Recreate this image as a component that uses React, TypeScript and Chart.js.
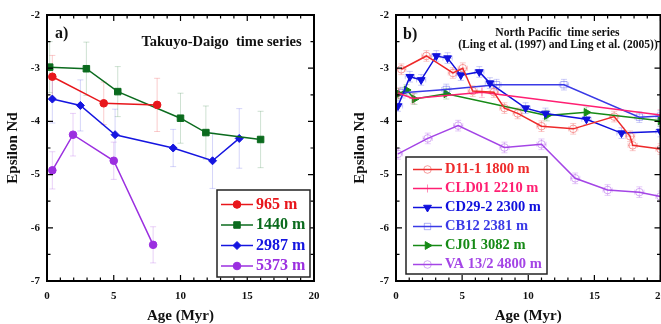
import React, { useEffect, useRef } from 'react';
import { Chart, registerables } from 'chart.js';
import { drawPoint } from 'chart.js/helpers';

Chart.register(...registerables);

const FONT = '"Liberation Serif", "Times New Roman", serif';

// ---------- Panel a: Takuyo-Daigo ----------
const age965 = [0.4, 4.25, 8.25];
const eps965 = [-3.16, -3.66, -3.69];
const err965 = [0.4, 0.4, 0.5];

const age1440 = [0.2, 2.95, 5.3, 10.0, 11.9, 16.0];
const eps1440 = [-2.98, -3.01, -3.44, -3.94, -4.21, -4.34];
const err1440 = [0.48, 0.5, 0.47, 0.47, 0.5, 0.53];

const age2987 = [0.4, 2.5, 5.1, 9.45, 12.4, 14.4];
const eps2987 = [-3.58, -3.7, -4.25, -4.5, -4.74, -4.32];
const err2987 = [0.45, 0.48, 0.48, 0.35, 0.52, 0.56];

const age5373 = [0.4, 1.95, 5.0, 7.95];
const eps5373 = [-4.92, -4.25, -4.74, -6.32];
const err5373 = [0.35, 0.4, 0.35, 0.34];

// ---------- Panel b: North Pacific ----------
const ageD11 = [0.4, 2.3, 4.3, 5.05, 5.8, 7.4, 8.2, 9.2, 11.0, 13.4, 16.5, 17.7, 17.9, 20.0];
const epsD11 = [-3.02, -2.77, -3.09, -3.0, -3.43, -3.45, -3.75, -3.85, -4.09, -4.14, -3.91, -4.28, -4.45, -4.52];

const ageCLD = [0.2, 1.3, 6.5, 20.0];
const epsCLD = [-3.47, -3.57, -3.45, -3.88];

const ageCD29 = [0.15, 1.05, 1.9, 3.05, 3.9, 4.9, 6.3, 7.1, 9.8, 11.3, 14.4, 17.05, 20.0];
const epsCD29 = [-3.71, -3.16, -3.22, -2.77, -2.81, -3.13, -3.07, -3.28, -3.75, -3.85, -3.96, -4.22, -4.19];

const ageCB12 = [0.5, 3.8, 7.6, 12.7, 18.4, 20.0];
const epsCB12 = [-3.46, -3.4, -3.31, -3.31, -3.92, -3.9];

const ageCJ01 = [0.2, 0.8, 1.4, 3.8, 11.4, 14.4, 20.0];
const epsCJ01 = [-3.48, -3.41, -3.58, -3.48, -3.89, -3.83, -3.99];

const ageVA = [0.15, 2.4, 4.7, 8.2, 11.0, 13.55, 16.0, 18.4, 20.0];
const epsVA = [-4.61, -4.32, -4.08, -4.49, -4.43, -5.07, -5.29, -5.33, -5.41];

const errB_y = 0.1; // typical epsilon Nd uncertainty in panel b
const errB_x = 0.35; // typical age uncertainty in panel b (Myr)

const xTickValues = [0, 5, 10, 15, 20];
const yTickValues = [-7, -6, -5, -4, -3, -2];

const pts = (xs: number[], ys: number[]) => xs.map((x, i) => ({ x, y: ys[i] }));
const fill = (n: number, v: number) => xs(n).map(() => v);
function xs(n: number) { return Array.from({ length: n }, (_, i) => i); }

// ---------- plugins ----------
const framePlugin = {
  id: 'frameTicks',
  afterDatasetsDraw(chart: any) {
    const { ctx, chartArea: a, scales } = chart;
    const x = scales.x, y = scales.y;
    ctx.save();
    ctx.strokeStyle = '#000';
    ctx.lineWidth = 1.2;
    ctx.beginPath();
    for (let v = x.min; v <= x.max + 1e-9; v += 1) {
      const px = x.getPixelForValue(v);
      const len = Math.abs(v % 5) < 1e-9 ? 6 : 3.5;
      ctx.moveTo(px, a.bottom); ctx.lineTo(px, a.bottom - len);
      ctx.moveTo(px, a.top); ctx.lineTo(px, a.top + len);
    }
    for (let v = y.min; v <= y.max + 1e-9; v += 0.5) {
      const py = y.getPixelForValue(v);
      const len = Math.abs(v % 1) < 1e-9 ? 6 : 3.5;
      ctx.moveTo(a.left, py); ctx.lineTo(a.left + len, py);
      ctx.moveTo(a.right, py); ctx.lineTo(a.right - len, py);
    }
    ctx.stroke();
    ctx.lineWidth = 2;
    ctx.strokeRect(a.left, a.top, a.right - a.left, a.bottom - a.top);
    ctx.restore();
  },
};

const errPlugin = {
  id: 'errBars',
  beforeDatasetsDraw(chart: any) {
    const { ctx, chartArea: a, scales } = chart;
    const x = scales.x, y = scales.y;
    ctx.save();
    ctx.beginPath();
    ctx.rect(a.left, a.top, a.right - a.left, a.bottom - a.top);
    ctx.clip();
    chart.data.datasets.forEach((ds: any) => {
      ctx.strokeStyle = ds.errColor;
      ctx.lineWidth = 1;
      ctx.beginPath();
      ds.data.forEach((p: any, i: number) => {
        const px = x.getPixelForValue(p.x);
        const py = y.getPixelForValue(p.y);
        if (ds.errY) {
          const e = Array.isArray(ds.errY) ? ds.errY[i] : ds.errY;
          const t = y.getPixelForValue(p.y + e);
          const b = y.getPixelForValue(p.y - e);
          ctx.moveTo(px, t); ctx.lineTo(px, b);
          ctx.moveTo(px - 3, t); ctx.lineTo(px + 3, t);
          ctx.moveTo(px - 3, b); ctx.lineTo(px + 3, b);
        }
        if (ds.errX) {
          const l = x.getPixelForValue(p.x - ds.errX);
          const r = x.getPixelForValue(p.x + ds.errX);
          ctx.moveTo(l, py); ctx.lineTo(r, py);
          ctx.moveTo(l, py - 2.5); ctx.lineTo(l, py + 2.5);
          ctx.moveTo(r, py - 2.5); ctx.lineTo(r, py + 2.5);
        }
      });
      ctx.stroke();
    });
    ctx.restore();
  },
};

const legendPlugin = {
  id: 'boxLegend',
  afterDraw(chart: any, _args: any, o: any) {
    if (!o || !o.show) return;
    const { ctx } = chart;
    ctx.save();
    ctx.fillStyle = '#fff';
    ctx.fillRect(o.left, o.top, o.width, o.height);
    ctx.strokeStyle = '#222';
    ctx.lineWidth = 1.5;
    ctx.strokeRect(o.left, o.top, o.width, o.height);
    chart.data.datasets.forEach((ds: any, i: number) => {
      const yy = o.rowY + i * o.rowH;
      ctx.strokeStyle = ds.borderColor;
      ctx.lineWidth = ds.borderWidth;
      ctx.beginPath();
      ctx.moveTo(o.lineX1, yy); ctx.lineTo(o.lineX2, yy);
      ctx.stroke();
      ctx.fillStyle = ds.pointBackgroundColor;
      ctx.strokeStyle = ds.pointBorderColor;
      ctx.lineWidth = ds.pointBorderWidth ?? 1;
      drawPoint(ctx, { pointStyle: ds.pointStyle, rotation: ds.pointRotation || 0, radius: ds.pointRadius, borderWidth: ds.pointBorderWidth ?? 1 } as any, (o.lineX1 + o.lineX2) / 2, yy);
      ctx.fillStyle = ds.textColor || ds.borderColor;
      ctx.font = `bold ${o.fontSize}px ${FONT}`;
      ctx.textBaseline = 'middle';
      ctx.textAlign = 'left';
      ctx.fillText(ds.label, o.textX, yy);
    });
    ctx.restore();
  },
};

const textPlugin = {
  id: 'texts',
  afterDraw(chart: any, _args: any, o: any) {
    if (!o || !o.items) return;
    const { ctx } = chart;
    ctx.save();
    o.items.forEach((t: any) => {
      ctx.fillStyle = '#111';
      ctx.font = `bold ${t.size}px ${FONT}`;
      ctx.textAlign = t.align || 'center';
      ctx.textBaseline = 'middle';
      ctx.fillText(t.text, t.x, t.y);
    });
    ctx.restore();
  },
};

function makeOptions(yWidth: number, padRight: number, yTitlePad: number, legend: any, texts: any[]) {
  return {
    animation: false,
    responsive: false,
    devicePixelRatio: 1,
    layout: { padding: { top: 15, right: padRight, left: 0, bottom: 0 } },
    plugins: {
      legend: { display: false },
      tooltip: { enabled: false },
      boxLegend: legend,
      texts: { items: texts },
    },
    scales: {
      x: {
        type: 'linear',
        min: 0,
        max: 20,
        afterFit: (s: any) => { s.height = 43; },
        afterBuildTicks: (s: any) => { s.ticks = xTickValues.map((v) => ({ value: v })); },
        grid: { display: false, drawTicks: false },
        border: { display: false },
        ticks: { color: '#111', padding: 9, font: { family: FONT, size: 11, weight: 'bold' } },
        title: { display: true, text: 'Age (Myr)', color: '#111', padding: { top: 0, bottom: 0.5 }, font: { family: FONT, size: 15, weight: 'bold', lineHeight: 1 } },
      },
      y: {
        type: 'linear',
        min: -7,
        max: -2,
        afterFit: (s: any) => { s.width = yWidth; },
        afterBuildTicks: (s: any) => { s.ticks = yTickValues.map((v) => ({ value: v })); },
        grid: { display: false, drawTicks: false },
        border: { display: false },
        ticks: { color: '#111', padding: 7, font: { family: FONT, size: 11, weight: 'bold' } },
        title: { display: true, text: 'Epsilon Nd', color: '#111', padding: { top: yTitlePad, bottom: 0 }, font: { family: FONT, size: 15, weight: 'bold', lineHeight: 1 } },
      },
    },
  };
}

function ds(label: string, x: number[], y: number[], color: string, errColor: string, extra: any) {
  return {
    label,
    data: pts(x, y),
    showLine: true,
    borderColor: color,
    backgroundColor: color,
    borderWidth: 1.5,
    pointBackgroundColor: color,
    pointBorderColor: color,
    pointBorderWidth: 1,
    errColor,
    textColor: color,
    ...extra,
  };
}

function PanelA() {
  const ref = useRef<HTMLCanvasElement>(null);
  useEffect(() => {
    const red = '#e8161b', green = '#0b6b1e', blue = '#1515e0', purple = '#9b2fe0';
    const chart = new Chart(ref.current as HTMLCanvasElement, {
      type: 'scatter',
      data: {
        datasets: [
          ds('965 m', age965, eps965, red, 'rgba(232,22,27,0.22)', { errY: err965, pointStyle: 'circle', pointRadius: 3.8 }),
          ds('1440 m', age1440, eps1440, green, 'rgba(11,107,30,0.2)', { errY: err1440, pointStyle: 'rect', pointRadius: 4.6 }),
          ds('2987 m', age2987, eps2987, blue, 'rgba(21,21,224,0.18)', { errY: err2987, pointStyle: 'rectRot', pointRadius: 4 }),
          ds('5373 m', age5373, eps5373, purple, 'rgba(155,47,224,0.22)', { errY: err5373, pointStyle: 'circle', pointRadius: 3.8 }),
        ],
      } as any,
      options: makeOptions(47, 16, 5.5,
        { show: true, left: 217, top: 190, width: 93, height: 87, rowY: 204.5, rowH: 20.5, lineX1: 221, lineX2: 253, textX: 256, fontSize: 16 },
        [
          { text: 'a)', x: 55, y: 34, size: 16, align: 'left' },
          { text: 'Takuyo-Daigo  time series', x: 221.5, y: 42.5, size: 14.5 },
        ]) as any,
      plugins: [errPlugin, framePlugin, legendPlugin, textPlugin],
    });
    return () => chart.destroy();
  }, []);
  return <canvas ref={ref} width={330} height={324} style={{ position: 'absolute', left: 0, top: 0, width: 330, height: 324 }} />;
}

function PanelB() {
  const ref = useRef<HTMLCanvasElement>(null);
  useEffect(() => {
    const red = '#ee2a2a', pink = '#ff1f72', blue = '#1010dd', blue2 = '#3a3ae6', green = '#168a16', purple = '#a445e6';
    const n = (a: number[]) => a.length;
    const chart = new Chart(ref.current as HTMLCanvasElement, {
      type: 'scatter',
      data: {
        datasets: [
          ds('D11-1 1800 m', ageD11, epsD11, red, 'rgba(238,42,42,0.25)', { errY: fill(n(ageD11), errB_y), errX: errB_x, pointStyle: 'circle', pointRadius: 3.8, pointBackgroundColor: 'rgba(0,0,0,0)', pointBorderColor: 'rgba(238,42,42,0.45)' }),
          ds('CLD01 2210 m', ageCLD, epsCLD, pink, 'rgba(255,31,114,0.25)', { errY: fill(n(ageCLD), errB_y), pointStyle: 'cross', pointRadius: 4, pointBorderColor: 'rgba(255,31,114,0.5)' }),
          ds('CD29-2 2300 m', ageCD29, epsCD29, blue, 'rgba(16,16,221,0.22)', { errY: fill(n(ageCD29), errB_y), errX: errB_x, pointStyle: 'triangle', pointRotation: 180, pointRadius: 4.5 }),
          ds('CB12 2381 m', ageCB12, epsCB12, blue2, 'rgba(58,58,230,0.25)', { errY: fill(n(ageCB12), errB_y), errX: errB_x, pointStyle: 'rect', pointRadius: 4.5, pointBackgroundColor: 'rgba(0,0,0,0)', pointBorderColor: 'rgba(58,58,230,0.4)' }),
          ds('CJ01 3082 m', ageCJ01, epsCJ01, green, 'rgba(22,138,22,0.25)', { errY: fill(n(ageCJ01), errB_y), pointStyle: 'triangle', pointRotation: 90, pointRadius: 4.5 }),
          ds('VA 13/2 4800 m', ageVA, epsVA, purple, 'rgba(164,69,230,0.28)', { errY: fill(n(ageVA), errB_y), errX: errB_x, pointStyle: 'circle', pointRadius: 3.8, pointBackgroundColor: 'rgba(0,0,0,0)', pointBorderColor: 'rgba(164,69,230,0.45)' }),
        ],
      } as any,
      options: makeOptions(66, 12, 22.5,
        { show: true, left: 76, top: 157, width: 141, height: 117, rowY: 169.5, rowH: 19, lineX1: 83, lineX2: 112, textX: 115, fontSize: 14.5 },
        [
          { text: 'b)', x: 73, y: 35, size: 16, align: 'left' },
          { text: 'North Pacific  time series', x: 227.5, y: 33, size: 11.6 },
          { text: '(Ling et al. (1997) and Ling et al. (2005))', x: 228, y: 45, size: 11.6 },
        ]) as any,
      plugins: [errPlugin, framePlugin, legendPlugin, textPlugin],
    });
    return () => chart.destroy();
  }, []);
  return <canvas ref={ref} width={345} height={324} style={{ position: 'absolute', left: 330, top: 0, width: 345, height: 324 }} />;
}

export default function App() {
  return (
    <div style={{ position: 'fixed', left: 0, top: 0, width: 661, height: 324, overflow: 'hidden', background: '#fff' }}>
      <PanelA />
      <PanelB />
    </div>
  );
}
